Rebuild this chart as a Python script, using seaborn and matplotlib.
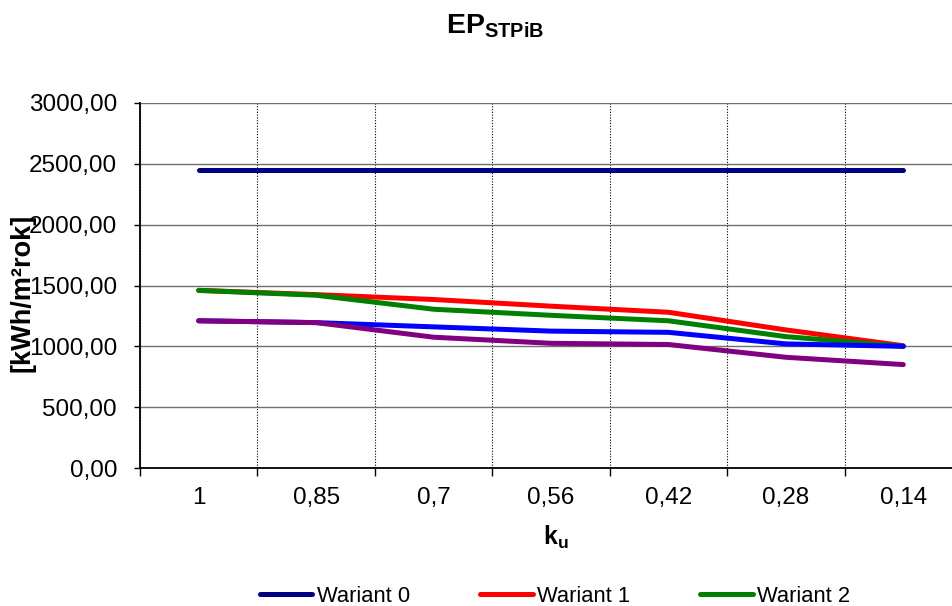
import matplotlib
matplotlib.use("Agg")
import matplotlib.pyplot as plt
from matplotlib.ticker import FixedLocator, FuncFormatter, NullFormatter
import numpy as np
import pandas as pd
import seaborn as sns

# k_u reduction factors (category axis)
ku_labels = ["1", "0,85", "0,7", "0,56", "0,42", "0,28", "0,14"]

# EP_STPiB per variant [kWh/m2 rok]
wariant_0 = [2450, 2450, 2450, 2450, 2450, 2450, 2450]
wariant_1 = [1460, 1425, 1385, 1330, 1280, 1135, 1005]
wariant_2 = [1460, 1420, 1305, 1255, 1210, 1080, 1000]
wariant_3 = [1210, 1195, 1160, 1125, 1115, 1020, 1000]
wariant_4 = [1210, 1195, 1075, 1025, 1015, 910, 850]

series_names = ["Wariant 0", "Wariant 1", "Wariant 2", "Wariant 3", "Wariant 4"]
series_values = [wariant_0, wariant_1, wariant_2, wariant_3, wariant_4]
series_colors = ["#000080", "#FF0000", "#008000", "#0000FF", "#800080"]
legend_names = ["Wariant 0", "Wariant 1", "Wariant 2"]

y_ticks = [0, 500, 1000, 1500, 2000, 2500, 3000]

sns.set_style("white")
plt.rcParams["font.family"] = ["Liberation Sans", "DejaVu Sans"]
plt.rcParams["mathtext.fontset"] = "custom"
plt.rcParams["mathtext.rm"] = "Liberation Sans"
plt.rcParams["mathtext.bf"] = "Liberation Sans:bold"
for key in ["text.color", "axes.labelcolor", "xtick.color", "ytick.color"]:
    plt.rcParams[key] = "black"

rows = []
for name, vals in zip(series_names, series_values):
    for i, v in enumerate(vals):
        rows.append({"pos": i, "ku": ku_labels[i], "value": v, "wariant": name})
df = pd.DataFrame(rows)

W, H = 953, 606
fig = plt.figure(figsize=(W / 100, H / 100), dpi=100)
fig.patch.set_facecolor("white")
ax = fig.add_axes([140 / W, (H - 468) / H, 822 / W, 365 / H])

sns.lineplot(
    data=df, x="pos", y="value", hue="wariant", hue_order=series_names,
    palette=series_colors, linewidth=3.6, sort=False, legend=False, ax=ax,
    estimator=None,
)
for ln in ax.lines:
    ln.set_solid_capstyle("round")
    ln.set_solid_joinstyle("round")

n = len(ku_labels)
ax.set_xlim(-0.5, n - 0.5)
ax.set_ylim(y_ticks[0], y_ticks[-1])

# category boundaries carry the ticks and dotted grid, centres carry the labels
ax.xaxis.set_major_locator(FixedLocator(np.arange(-0.5, n, 1.0)))
ax.xaxis.set_major_formatter(NullFormatter())
ax.xaxis.set_minor_locator(FixedLocator(np.arange(n)))
ax.xaxis.set_minor_formatter(FuncFormatter(lambda v, p: ku_labels[int(round(v))]))
ax.tick_params(axis="x", which="major", direction="out", length=6, width=1,
               color="black", bottom=True)
ax.tick_params(axis="x", which="minor", length=0, pad=14, labelsize=17.5,
               bottom=True, labelcolor="black")

ax.set_yticks(y_ticks)
ax.yaxis.set_major_formatter(FuncFormatter(lambda v, p: f"{v:.2f}".replace(".", ",")))
ax.tick_params(axis="y", direction="out", length=4.5, width=1, color="black",
               pad=12, labelsize=17.5, left=True, labelcolor="black")

ax.grid(False)
ax.xaxis.grid(True, which="major", linestyle=(0, (1, 1.5)), color="black", linewidth=0.8)
ax.yaxis.grid(True, which="major", linestyle="-", color="#6f6f6f", linewidth=1.0)
ax.set_axisbelow(True)

for side in ["top", "right"]:
    ax.spines[side].set_visible(False)
for side in ["left", "bottom"]:
    ax.spines[side].set_color("black")
    ax.spines[side].set_linewidth(1.3)

ax.set_xlabel("")
ax.set_ylabel("")

# titles
fig.text(495 / W, 1 - 34 / H, r"$\mathbf{EP_{STPiB}}$", ha="center",
         va="baseline", fontsize=20.5, color="black")
fig.text(556 / W, 1 - 545 / H, r"$\mathbf{k_{u}}$", ha="center",
         va="baseline", fontsize=18, color="black")
fig.text(23 / W, 1 - 293 / H, "[kWh/m²rok]", rotation=90, ha="center",
         va="center", fontsize=19.5, fontweight="bold", color="black")

handles = [ax.lines[series_names.index(nm)] for nm in legend_names]
leg = fig.legend(
    handles, legend_names, loc="center", ncol=3,
    bbox_to_anchor=(555 / W, 1 - 596 / H), frameon=False, fontsize=15.8,
    handlelength=2.4, handletextpad=0.2, columnspacing=3.2, borderaxespad=0,
    borderpad=0, labelcolor="black",
)

fig.savefig("out.png", dpi=100, facecolor="white")
